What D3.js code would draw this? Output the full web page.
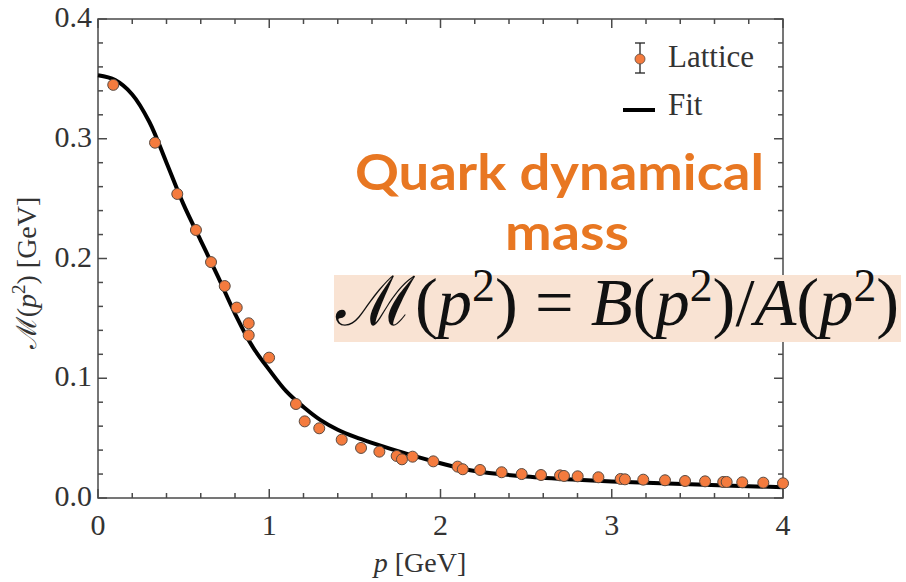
<!DOCTYPE html>
<html>
<head>
<meta charset="utf-8">
<script src="https://cdn.jsdelivr.net/npm/d3@7"></script>
<style>
    body { margin: 0; background: #fff; }
    svg { display: block; }
</style>
</head>
<body>
<div id="chart"></div>
<script>
// Quark dynamical mass: lattice points + fit

// lattice data
var latticeP = [0.089, 0.333, 0.463, 0.572, 0.660, 0.740, 0.810, 0.880, 0.880, 0.999,
    1.156, 1.207, 1.292, 1.423, 1.536, 1.643, 1.744, 1.775, 1.837, 1.958,
    2.100, 2.130, 2.231, 2.357, 2.474, 2.587, 2.698, 2.721, 2.801, 2.922,
    3.052, 3.077, 3.184, 3.311, 3.428, 3.545, 3.651, 3.671, 3.762, 3.885, 4.000];
var latticeM = [0.345, 0.2967, 0.2539, 0.2238, 0.197, 0.177, 0.159, 0.1459, 0.1359, 0.1172,
    0.0785, 0.064, 0.0582, 0.0487, 0.0418, 0.0387, 0.0351, 0.0323, 0.0345, 0.0306,
    0.0262, 0.0240, 0.0234, 0.0215, 0.0200, 0.0192, 0.0189, 0.0184, 0.0181, 0.0173,
    0.0159, 0.0156, 0.0153, 0.0148, 0.0142, 0.0139, 0.0134, 0.0134, 0.0131, 0.0128, 0.0123];

// fit curve, sampled from the plot
var fitP = [0.0, 0.1, 0.2, 0.3, 0.4, 0.5, 0.6, 0.7, 0.8, 0.9, 1.0, 1.1, 1.2, 1.3, 1.4, 1.5, 1.6,
    1.8, 2.0, 2.2, 2.5, 2.8, 3.0, 3.5, 4.0];
var fitM = [0.353, 0.349, 0.337, 0.314, 0.280, 0.245, 0.215, 0.185, 0.154, 0.127, 0.107, 0.089,
    0.076, 0.065, 0.057, 0.051, 0.046, 0.037, 0.029, 0.0225, 0.018, 0.0152, 0.0138, 0.0112, 0.009];

var xTicks = [0, 1, 2, 3, 4];
var yTicks = [0.0, 0.1, 0.2, 0.3, 0.4];
var legendLabels = ["Lattice", "Fit"];
var titleLines = ["Quark dynamical", "mass"];

var width = 906, height = 582;
var margin = {top: 19, right: 123, bottom: 84, left: 98};
var plotW = width - margin.left - margin.right,
    plotH = height - margin.top - margin.bottom;

var svg = d3.select("#chart").append("svg")
    .attr("width", width)
    .attr("height", height);

var xScale = d3.scaleLinear().domain([0, 4]).range([margin.left, margin.left + plotW]);
var yScale = d3.scaleLinear().domain([0, 0.4]).range([margin.top + plotH, margin.top]);

var frameColor = "#4a4a4a";
var serif = "'Liberation Serif', 'DejaVu Serif', serif";

// frame with inward ticks on all sides
var minorX = d3.range(0, 4.0001, 0.2), minorY = d3.range(0, 0.40001, 0.02);
var isMajor = function (v, step) {
    return Math.abs(v / step - Math.round(v / step)) < 1e-6;
};

var frame = svg.append("g").attr("class", "frame");

function drawTicks(values, scale, major, horizontal) {
    values.forEach(function (v) {
        var len = isMajor(v, major) ? 9 : 5;
        if (horizontal) {
            var x = scale(v);
            frame.append("line").attr("x1", x).attr("x2", x)
                .attr("y1", yScale(0)).attr("y2", yScale(0) - len);
            frame.append("line").attr("x1", x).attr("x2", x)
                .attr("y1", yScale(0.4)).attr("y2", yScale(0.4) + len);
        } else {
            var y = scale(v);
            frame.append("line").attr("y1", y).attr("y2", y)
                .attr("x1", xScale(0)).attr("x2", xScale(0) + len);
            frame.append("line").attr("y1", y).attr("y2", y)
                .attr("x1", xScale(4)).attr("x2", xScale(4) - len);
        }
    });
}
drawTicks(minorX, xScale, 1, true);
drawTicks(minorY, yScale, 0.1, false);

frame.append("rect")
    .attr("x", xScale(0))
    .attr("y", yScale(0.4))
    .attr("width", xScale(4) - xScale(0))
    .attr("height", yScale(0) - yScale(0.4))
    .attr("fill", "none");

frame.selectAll("line, rect")
    .attr("stroke", frameColor)
    .attr("stroke-width", 1.5);

// tick labels
svg.selectAll(".xlab")
    .data(xTicks)
    .enter()
    .append("text")
    .attr("class", "xlab")
    .attr("x", function (d) { return xScale(d); })
    .attr("y", yScale(0) + 37)
    .attr("text-anchor", "middle")
    .attr("font-family", serif)
    .attr("font-size", 30)
    .attr("fill", "#333")
    .text(function (d) { return d; });

svg.selectAll(".ylab")
    .data(yTicks)
    .enter()
    .append("text")
    .attr("class", "ylab")
    .attr("x", xScale(0) - 6)
    .attr("y", function (d) { return yScale(d) + 8; })
    .attr("text-anchor", "end")
    .attr("font-family", serif)
    .attr("font-size", 30)
    .attr("fill", "#333")
    .text(function (d) { return d.toFixed(1); });

// axis titles
var xTitle = svg.append("text")
    .attr("x", 420)
    .attr("y", 572)
    .attr("text-anchor", "middle")
    .attr("font-family", serif)
    .attr("font-size", 28)
    .attr("fill", "#333");
xTitle.append("tspan").attr("font-style", "italic").text("p");
xTitle.append("tspan").text(" [GeV]");

var yTitle = svg.append("text")
    .attr("transform", "translate(36,273) rotate(-90)")
    .attr("text-anchor", "middle")
    .attr("font-family", serif)
    .attr("font-size", 28)
    .attr("fill", "#333");
yTitle.append("tspan").text("ℳ(");
yTitle.append("tspan").attr("font-style", "italic").text("p");
yTitle.append("tspan").attr("font-size", 19).attr("dy", -11).text("2");
yTitle.append("tspan").attr("dy", 11).text(") [GeV]");

// fit curve
var fitData = fitP.map(function (p, i) {
    return {p: p, m: fitM[i]};
});
var line = d3.line()
    .x(function (d) { return xScale(d.p); })
    .y(function (d) { return yScale(d.m); })
    .curve(d3.curveCatmullRom.alpha(0.5));

svg.append("path")
    .datum(fitData)
    .attr("d", line)
    .attr("fill", "none")
    .attr("stroke", "#000")
    .attr("stroke-width", 4);

// lattice points
var pointFill = "#f47b3e", pointStroke = "#5a4a40";
svg.selectAll(".pt")
    .data(latticeP.map(function (p, i) {
        return {p: p, m: latticeM[i]};
    }))
    .enter()
    .append("circle")
    .attr("class", "pt")
    .attr("cx", function (d) { return xScale(d.p); })
    .attr("cy", function (d) { return yScale(d.m); })
    .attr("r", 5.5)
    .attr("fill", pointFill)
    .attr("stroke", pointStroke)
    .attr("stroke-width", 1);

// legend
var legend = svg.append("g").attr("class", "legend");
legend.append("line")
    .attr("x1", 640).attr("x2", 640).attr("y1", 43).attr("y2", 73)
    .attr("stroke", "#222").attr("stroke-width", 1.3);
legend.append("line")
    .attr("x1", 635).attr("x2", 645).attr("y1", 43).attr("y2", 43)
    .attr("stroke", "#222").attr("stroke-width", 1.3);
legend.append("line")
    .attr("x1", 635).attr("x2", 645).attr("y1", 73).attr("y2", 73)
    .attr("stroke", "#222").attr("stroke-width", 1.3);
legend.append("circle")
    .attr("cx", 640).attr("cy", 59).attr("r", 5)
    .attr("fill", pointFill).attr("stroke", pointStroke).attr("stroke-width", 0.8);
legend.append("line")
    .attr("x1", 623).attr("x2", 655).attr("y1", 110).attr("y2", 110)
    .attr("stroke", "#000").attr("stroke-width", 4);
legend.selectAll(".ltext")
    .data(legendLabels)
    .enter()
    .append("text")
    .attr("class", "ltext")
    .attr("x", 668)
    .attr("y", function (d, i) { return 67 + i * 48; })
    .attr("font-family", serif)
    .attr("font-size", 31)
    .attr("fill", "#333")
    .text(function (d) { return d; });

// annotation
var orange = "#e87722";
svg.selectAll(".title")
    .data(titleLines)
    .enter()
    .append("text")
    .attr("class", "title")
    .attr("x", function (d, i) { return i === 0 ? 559.5 : 567; })
    .attr("y", function (d, i) { return 190 + i * 60; })
    .attr("text-anchor", "middle")
    .attr("font-family", "Lato, 'Open Sans', sans-serif")
    .attr("font-weight", "bold")
    .attr("font-size", 49)
    .attr("fill", orange)
    .attr("textLength", function (d, i) { return i === 0 ? 409 : 124; })
    .attr("lengthAdjust", "spacingAndGlyphs")
    .text(function (d) { return d; });

svg.append("rect")
    .attr("x", 334).attr("y", 275)
    .attr("width", 567).attr("height", 67)
    .attr("fill", "#f9e3d3");

var formula = svg.append("text")
    .attr("x", 336)
    .attr("y", 325)
    .attr("font-family", serif)
    .attr("font-size", 60)
    .attr("fill", "#111");

function addPart(txt, italic) {
    formula.append("tspan").attr("font-style", italic ? "italic" : "normal").text(txt);
}
function addSquare() {
    formula.append("tspan").attr("font-size", 40).attr("dy", -24).text("2");
    formula.append("tspan").attr("dy", 24).text(")");
}
addPart("ℳ(", false);
addPart("p", true);
addSquare();
addPart(" = ", false);
addPart("B", true);
addPart("(", false);
addPart("p", true);
addSquare();
addPart("/", false);
addPart("A", true);
addPart("(", false);
addPart("p", true);
addSquare();

// stretch the formula to the box width
var fLen = formula.node().getComputedTextLength();
formula.attr("font-size", 60 * 563 / fLen);
formula.selectAll("tspan").filter(function () {
    return d3.select(this).attr("font-size") === "40";
}).attr("font-size", 40 * 563 / fLen);
</script>
</body>
</html>
